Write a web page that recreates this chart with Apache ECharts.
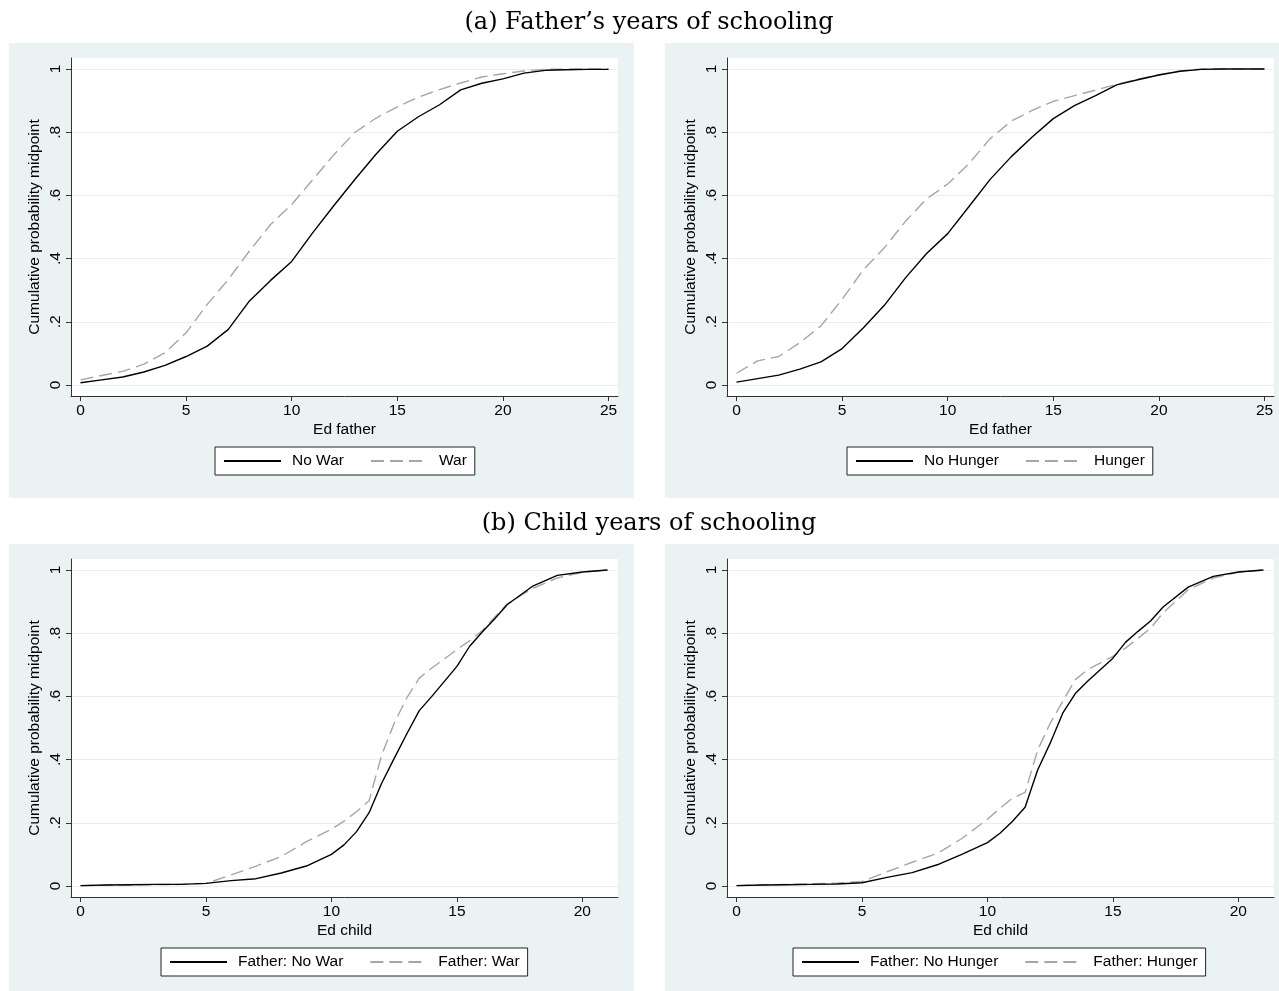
<!DOCTYPE html>
<html>
<head>
<meta charset="utf-8">
<script src="https://cdn.jsdelivr.net/npm/echarts@6/dist/echarts.min.js"></script>
<style>
html,body{margin:0;padding:0;background:#fff;}
#c{width:1279px;height:991px;}
</style>
</head>
<body>
<div id="c"></div>
<script>
// ---- Data ----
const fatherX = [0,1,2,3,4,5,6,7,8,9,10,11,12,13,14,15,16,17,18,19,20,21,22,23,24,25];
const noWar   = [0.007,0.016,0.025,0.041,0.062,0.090,0.123,0.176,0.266,0.331,0.391,0.482,0.568,0.651,0.731,0.803,0.849,0.887,0.934,0.955,0.969,0.987,0.996,0.998,0.999,0.999];
const war     = [0.016,0.030,0.043,0.066,0.102,0.165,0.255,0.334,0.424,0.508,0.571,0.650,0.729,0.800,0.845,0.880,0.911,0.935,0.956,0.975,0.985,0.994,0.999,1.000,1.000,1.000];
const noHunger= [0.009,0.020,0.031,0.050,0.073,0.115,0.180,0.252,0.339,0.416,0.479,0.564,0.650,0.722,0.785,0.843,0.884,0.916,0.950,0.966,0.981,0.993,0.999,1.000,1.000,1.000];
const hunger  = [0.037,0.076,0.090,0.134,0.187,0.271,0.364,0.434,0.518,0.589,0.636,0.700,0.779,0.835,0.869,0.898,0.916,0.933,0.952,0.968,0.982,0.994,1.000,1.000,1.000,1.000];

const childX = [0,1,2,3,4,5,6,7,8,9,10,10.5,11,11.5,12,12.5,13,13.5,14,15,15.5,16,16.5,17,18,19,20,21];
const fNoWar    = [0.001,0.003,0.004,0.005,0.005,0.008,0.017,0.023,0.041,0.063,0.100,0.130,0.172,0.232,0.325,0.404,0.481,0.555,0.600,0.695,0.758,0.803,0.845,0.890,0.948,0.983,0.994,1.000];
const fWar      = [0.001,0.002,0.003,0.004,0.005,0.008,0.035,0.063,0.093,0.140,0.180,0.205,0.235,0.270,0.414,0.515,0.595,0.658,0.690,0.748,0.776,0.808,0.850,0.893,0.941,0.975,0.993,1.000];
const fNoHunger = [0.001,0.003,0.004,0.005,0.006,0.010,0.027,0.042,0.067,0.101,0.137,0.167,0.205,0.249,0.367,0.452,0.547,0.609,0.649,0.721,0.771,0.806,0.839,0.883,0.946,0.980,0.994,1.000];
const fHunger   = [0.001,0.003,0.005,0.007,0.009,0.014,0.045,0.075,0.103,0.151,0.211,0.246,0.278,0.296,0.430,0.515,0.584,0.653,0.685,0.727,0.753,0.784,0.816,0.864,0.938,0.975,0.993,1.000];

const yTicks = [0,0.2,0.4,0.6,0.8,1];
const fatherTicks = [0,5,10,15,20,25];
const childTicks = [0,5,10,15,20];

const titleA = "(a) Father\u2019s years of schooling";
const titleB = "(b) Child years of schooling";
const yTitle = "Cumulative probability midpoint";

// ---- Layout ----
const panels = [
  {bg:[9,43,625,455],  grid:{left:71, top:58, width:547, height:338}, xname:'Ed father', xmin:-0.45, xmax:25.45, ticks:fatherTicks, x:fatherX, a:noWar, b:war, na:'No War', nb:'War', legLeft:215, legTop:447},
  {bg:[665,43,614,455], grid:{left:727, top:58, width:547, height:338}, xname:'Ed father', xmin:-0.45, xmax:25.45, ticks:fatherTicks, x:fatherX, a:noHunger, b:hunger, na:'No Hunger', nb:'Hunger', legLeft:847, legTop:447},
  {bg:[9,544,625,447],  grid:{left:71, top:559, width:547, height:338}, xname:'Ed child', xmin:-0.38, xmax:21.42, ticks:childTicks, x:childX, a:fNoWar, b:fWar, na:'Father: No War', nb:'Father: War', legLeft:161, legTop:948},
  {bg:[665,544,614,447], grid:{left:727, top:559, width:547, height:338}, xname:'Ed child', xmin:-0.38, xmax:21.42, ticks:childTicks, x:childX, a:fNoHunger, b:fHunger, na:'Father: No Hunger', nb:'Father: Hunger', legLeft:793, legTop:948}
];

const FONT = 'Liberation Sans, Arial, Helvetica, sans-serif';
const FS = 15.5;
const zip = (xs, ys) => xs.map((x, i) => [x, ys[i]]);
const yFmt = v => (v === 0 ? '0' : v === 1 ? '1' : String(+v.toFixed(1)).replace(/^0/, ''));

const option = {
  animation: false,
  backgroundColor: '#ffffff',
  graphic: {
    elements: [
      ...panels.map(p => ({type:'rect', z:-10, silent:true, shape:{x:p.bg[0], y:p.bg[1], width:p.bg[2], height:p.bg[3]}, style:{fill:'#eaf2f3'}})),
      {type:'text', x:649, y:23, silent:true, style:{text:titleA, font:'24px "DejaVu Serif", serif', fill:'#000', align:'center', verticalAlign:'middle'}},
      {type:'text', x:649, y:524, silent:true, style:{text:titleB, font:'24px "DejaVu Serif", serif', fill:'#000', align:'center', verticalAlign:'middle'}}
    ]
  },
  grid: panels.map(p => Object.assign({show:true, backgroundColor:'#ffffff', borderWidth:0, containLabel:false}, p.grid)),
  xAxis: panels.map((p, i) => ({
    type:'value', gridIndex:i, min:p.xmin, max:p.xmax,
    name:p.xname, nameLocation:'middle', nameGap:26,
    nameTextStyle:{fontFamily:FONT, fontSize:FS, color:'#000'},
    axisLine:{show:true, onZero:false, lineStyle:{color:'#333', width:1}},
    axisTick:{show:true, length:5, customValues:p.ticks, lineStyle:{color:'#333'}},
    axisLabel:{customValues:p.ticks, margin:7, fontFamily:FONT, fontSize:FS, color:'#000'},
    splitLine:{show:false}
  })),
  yAxis: panels.map((p, i) => ({
    type:'value', gridIndex:i, min:-0.035, max:1.035,
    name:yTitle, nameLocation:'middle', nameGap:28, nameRotate:90,
    nameTextStyle:{fontFamily:FONT, fontSize:FS, color:'#000'},
    axisLine:{show:true, onZero:false, lineStyle:{color:'#333', width:1}},
    axisTick:{show:true, length:5, customValues:yTicks, lineStyle:{color:'#333'}},
    axisLabel:{customValues:yTicks, rotate:90, margin:7, fontFamily:FONT, fontSize:FS, color:'#000', formatter:yFmt},
    splitLine:{show:true, lineStyle:{color:'#e6eef0', width:1}}
  })),
  legend: panels.map(p => ({
    data:[p.na, p.nb], left:p.legLeft, top:p.legTop, orient:'horizontal',
    itemWidth:57, itemHeight:14, itemGap:26, padding:[6,8,6,8],
    backgroundColor:'#ffffff', borderColor:'#222', borderWidth:1, borderRadius:0,
    selectedMode:false,
    itemStyle:{opacity:0},
    textStyle:{fontFamily:FONT, fontSize:FS, color:'#000', padding:[0,0,0,6]}
  })),
  series: panels.flatMap((p, i) => [
    {name:p.na, type:'line', xAxisIndex:i, yAxisIndex:i, data:zip(p.x, p.a), symbol:'none', silent:true,
     lineStyle:{color:'#000', width:1.4, type:'solid'}, itemStyle:{color:'#000'}, z:3},
    {name:p.nb, type:'line', xAxisIndex:i, yAxisIndex:i, data:zip(p.x, p.b), symbol:'none', silent:true,
     lineStyle:{color:'#a6a6a6', width:1.4, type:[13,6]}, itemStyle:{color:'#a6a6a6'}, z:2}
  ])
};

const chart = echarts.init(document.getElementById('c'), null, {renderer:'canvas'});
chart.setOption(option);
</script>
</body>
</html>
